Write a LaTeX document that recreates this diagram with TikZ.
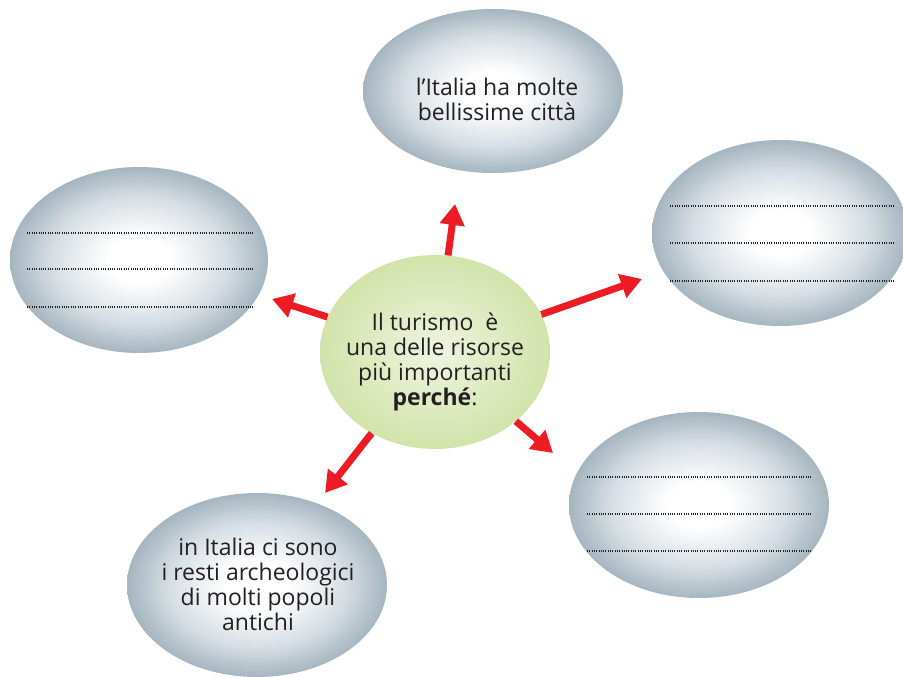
\documentclass[tikz,border=0pt]{standalone}
\usepackage{fontspec}
\setmainfont{Open Sans}
\usetikzlibrary{shapes.geometric,arrows.meta}
\definecolor{arrred}{HTML}{ED1C24}
\definecolor{balledge}{HTML}{A5B5BF}
\definecolor{ballmid}{HTML}{D6DEE4}
\definecolor{greenedge}{HTML}{D2E3AA}
\definecolor{greencenter}{HTML}{EEF5E0}
\definecolor{txtcol}{HTML}{231F20}
\definecolor{dotcol}{HTML}{222222}
\pgfdeclareradialshading{grayball}{\pgfpoint{0bp}{0bp}}{color(0bp)=(white); color(6bp)=(white); color(17bp)=(ballmid); color(25bp)=(balledge); color(50bp)=(balledge)}
\pgfdeclareradialshading{greenball}{\pgfpoint{0bp}{0bp}}{color(0bp)=(greencenter); color(25bp)=(greenedge); color(50bp)=(greenedge)}
\begin{document}
\begin{tikzpicture}[x=1pt,y=-1pt,
  ball/.style={ellipse, inner sep=0pt, minimum width=260pt, minimum height=186pt, shade, shading=grayball},
  hub/.style={ellipse, inner sep=0pt, minimum width=230pt, minimum height=194pt, shade, shading=greenball},
  label/.style={align=center, text=txtcol, inner sep=0pt, font=\fontsize{23}{25}\selectfont},
  arr/.style={draw=arrred, line width=7pt, -{Triangle[length=21pt,width=24pt]}, arrred},
  writeline/.style={draw=dotcol, line width=1.1pt, dash pattern=on 1pt off 1.3pt}
]
\useasboundingbox (0,0) rectangle (903,677);
\clip (0,0) rectangle (903,677);
% outer ellipses
\node[ball, minimum height=164pt] (top) at (493,91) {};
\node[ball, minimum width=258pt] (left) at (139,260) {};
\node[ball, minimum width=256pt] (right) at (780,233) {};
\node[ball] (br) at (699,505) {};
\node[ball, minimum height=184pt] (bl) at (257,585) {};
% hub
\node[hub] (c) at (435,352) {};
% texts
\node[label] (ttop) at (497,99) {l’Italia ha molte\\bellissime città};
\node[label] (tc) at (435,362) {Il turismo\ \ è\\una delle risorse\\più importanti\\\textbf{perché}:};
\node[label] (tbl) at (258,584) {in Italia ci sono\\i resti archeologici\\di molti popoli\\antichi};
% writing lines
\foreach \yy in {233,269,307} \draw[writeline] (27,\yy) -- (253,\yy);
\foreach \yy in {206,243,281} \draw[writeline] (670,\yy) -- (895,\yy);
\foreach \yy in {477,514,551} \draw[writeline] (587,\yy) -- (812,\yy);
% arrow tips
\coordinate (tipT) at (455,204);
\coordinate (tipR) at (642,279);
\coordinate (tipL) at (272,299);
\coordinate (tipBR) at (553,453);
\coordinate (tipBL) at (325,493);
\draw[arr] (c) -- (tipT);
\draw[arr] (c) -- (tipR);
\draw[arr] (c) -- (tipL);
\draw[arr] (c) -- (tipBR);
\draw[arr] (c) -- (tipBL);
\end{tikzpicture}
\end{document}
